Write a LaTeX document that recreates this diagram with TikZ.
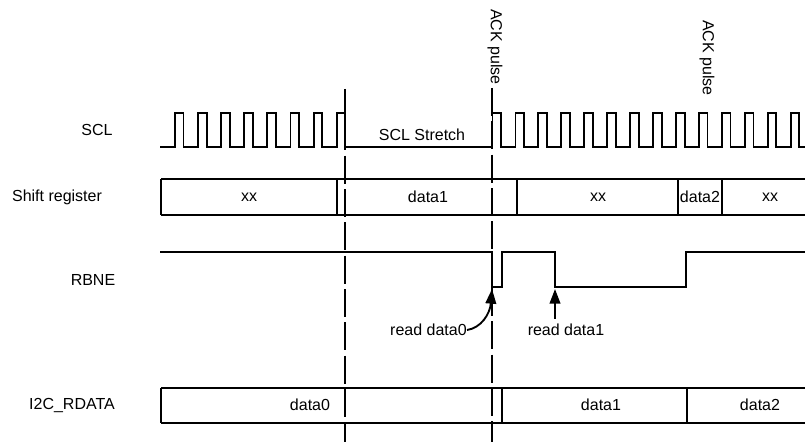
\documentclass[tikz,border=0pt]{standalone}
\usepackage{fontspec}
\setmainfont{Liberation Sans}
\usepackage{tikz}
\usetikzlibrary{arrows.meta}

\begin{document}
\begin{tikzpicture}[
    x=0.75pt, y=-0.75pt,
    wave/.style={line width=1.4pt, line join=miter},
    cell/.style={line width=1.4pt},
    marker/.style={line width=1.4pt, dash pattern=on 21pt off 4pt},
    signame/.style={font=\fontsize{12}{14}\selectfont, inner sep=0pt},
    txt/.style={font=\fontsize{12}{14}\selectfont, inner sep=0pt},
    ack/.style={font=\fontsize{12}{14}\selectfont, rotate=-90, anchor=west, inner sep=0pt},
    pointer/.style={-{Triangle[length=11pt, width=8pt]}, line width=1.4pt}
]
    \useasboundingbox (0,0) rectangle (805,442);

    % Signal names
    \node[signame] (sclname)   at (97,130)  {SCL};
    \node[signame] (srname)    at (57,197)  {Shift register};
    \node[signame] (rbnename)  at (93,280)  {RBNE};
    \node[signame] (rdataname) at (72,405)  {I2C\_RDATA};

    % SCL
    \draw[wave] (160,147)
        \foreach \i in {0,...,7} {
            -- ({175+23.1*\i},147) -- ({175+23.1*\i},113)
            -- ({183.5+23.1*\i},113) -- ({183.5+23.1*\i},147) }
        -- (492.5,147)
        \foreach \i in {0,...,13} {
            -- ({492.5+22.95*\i},147) -- ({492.5+22.95*\i},113)
            -- ({501+22.95*\i},113) -- ({501+22.95*\i},147) }
        -- (805,147);
    \node[txt] (stretch) at (422,135) {SCL Stretch};

    % Shift register
    \draw[cell] (161,179) -- (805,179);
    \draw[cell] (161,215) -- (805,215);
    \foreach \xc in {161,337,517,678,722}
        \draw[cell] (\xc,179) -- (\xc,215);
    \node[txt] (sr0) at (249,197) {xx};
    \node[txt] (sr1) at (428,197) {data1};
    \node[txt] (sr2) at (598,197) {xx};
    \node[txt] (sr3) at (700,197) {data2};
    \node[txt] (sr4) at (770,197) {xx};

    % RBNE
    \draw[wave] (160,252) -- (492,252) -- (492,287) -- (502,287) -- (502,252)
        -- (555,252) -- (555,287) -- (686,287) -- (686,252) -- (805,252);

    % I2C_RDATA
    \draw[cell] (161,388) -- (805,388);
    \draw[cell] (161,423) -- (805,423);
    \foreach \xc in {161,502,687}
        \draw[cell] (\xc,388) -- (\xc,423);
    \node[txt] (rd0val) at (310,405) {data0};
    \node[txt] (rd1val) at (601,405) {data1};
    \node[txt] (rd2val) at (760,405) {data2};

    % Markers
    \node[ack] (ack1) at (495,9)  {ACK pulse};
    \node[ack] (ack2) at (707,20) {ACK pulse};
    \coordinate (stretchtop) at (345,89);
    \coordinate (stretchbot) at (345,442);
    \coordinate (acktop) at (492,88);
    \coordinate (ackbot) at (492,442);
    \draw[marker] (stretchtop) -- (stretchbot);
    \draw[marker] (acktop) -- (ackbot);

    % Read pointers
    \node[txt, anchor=east] (rd0) at (467,330) {read data0};
    \coordinate (rd0tip) at (492,289);
    \draw[pointer] (rd0.east) .. controls (481,328) and (490,314) .. (rd0tip);
    \node[txt] (rd1) at (566,330) {read data1};
    \coordinate (rd1tip) at (555,289);
    \draw[pointer, shorten <=4pt] (rd1.north -| rd1tip) -- (rd1tip);
\end{tikzpicture}
\end{document}
